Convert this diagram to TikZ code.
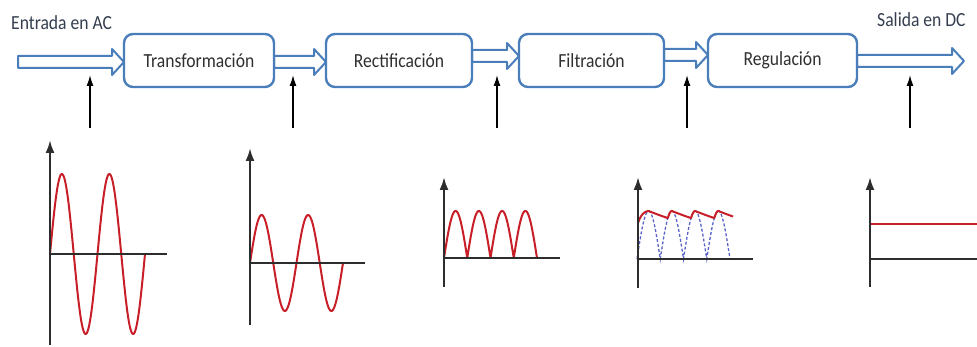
\documentclass[tikz,border=0pt]{standalone}
\usepackage{fontspec}
\usepackage{graphicx}
\setmainfont{Carlito}
\usetikzlibrary{arrows.meta,calc}
\definecolor{boxblue}{RGB}{74,126,187}
\definecolor{sigred}{RGB}{200,30,40}
\definecolor{axisgray}{RGB}{45,45,45}
\definecolor{txtgray}{RGB}{48,48,48}
\definecolor{captgray}{RGB}{52,62,78}
\definecolor{dashblue}{RGB}{90,100,200}
\newcommand\lbl[1]{\scalebox{0.88}[1]{#1}}
\newcommand\blockarr[3]{%
  \path[blockarrow] let \p1=(#1), \p2=(#2), \p3=(0,#3) in
    (\x1,\y3+6pt) -- (\x2-12pt,\y3+6pt) -- (\x2-12pt,\y3+13pt) -- (\x2,\y3)
    -- (\x2-12pt,\y3-13pt) -- (\x2-12pt,\y3-6pt) -- (\x1,\y3-6pt) -- cycle;}
\tikzset{
  stagebox/.style={draw=boxblue, line width=2.4pt, fill=white, rounded corners=9pt,
    minimum height=53pt, inner sep=0pt, text=txtgray,
    font=\fontsize{20}{24}\selectfont},
  blockarrow/.style={draw=boxblue, fill=white, line width=2pt, line join=round},
  uparrow/.style={draw=black, line width=1.4pt, -{Latex[length=11pt,width=7pt]}},
  axisline/.style={draw=axisgray, line width=2.2pt},
  axisarrow/.style={axisline, -{Latex[length=13pt,width=9pt]}},
  sig/.style={draw=sigred, line width=2pt, line join=round},
  dsig/.style={draw=dashblue, line width=1.3pt, dash pattern=on 3pt off 2pt},
  caption/.style={inner sep=0pt, anchor=base west, text=captgray, font=\fontsize{20}{24}\selectfont}
}
\begin{document}
\begin{tikzpicture}[x=1pt,y=-1pt]
\useasboundingbox (0,0) rectangle (977,347);

% captions
\node[caption] (inp) at (11,30) {\lbl{Entrada en AC}};
\node[caption] (outp) at (877,27) {\lbl{Salida en DC}};

% arrow ends
\coordinate (start) at (18,62);
\coordinate (finish) at (964,61);

% stage box anchors
\path (199,60.5) coordinate (tc) (399,60.5) coordinate (rc) (591.5,60.5) coordinate (fc) (782.5,60.5) coordinate (gc);
\path (tc) ++(-75,0) coordinate (tw) (tc) ++(75,0) coordinate (te);
\path (rc) ++(-73,0) coordinate (rw) (rc) ++(73,0) coordinate (re);
\path (fc) ++(-72.5,0) coordinate (fw) (fc) ++(72.5,0) coordinate (fe);
\path (gc) ++(-74.5,0) coordinate (gw) (gc) ++(74.5,0) coordinate (ge);

\blockarr{start}{tw}{62}
\blockarr{te}{rw}{62}
\blockarr{re}{fw}{56}
\blockarr{fe}{gw}{55}
\blockarr{ge}{finish}{61}

\node[stagebox, minimum width=150pt] (t) at (tc) {\lbl{Transformación}};
\node[stagebox, minimum width=146pt] (r) at (rc) {\lbl{Rectificación}};
\node[stagebox, minimum width=145pt] (f) at (fc) {\lbl{Filtración}};
\node[stagebox, minimum width=149pt] (g) at (gc) {\lbl{Regulación}};

% measurement arrows
\foreach \i/\xx in {1/90,2/293,3/497,4/687,5/910}{
  \coordinate (m\i b) at (\xx,128);
  \coordinate (m\i t) at (\xx,75);
  \draw[uparrow] (m\i b) -- (m\i t);
}

% graph 1: AC input
\draw[sig] plot[domain=0:720, samples=120, variable=\t] ({50+\t/720*95}, {254-80*sin(\t)});
\draw[axisarrow] (50,345) -- (50,140);
\draw[axisline] (50,254) -- (167,254);

% graph 2: transformed AC
\draw[sig] plot[domain=0:720, samples=120, variable=\t] ({250+\t/720*93}, {263-48*sin(\t)});
\draw[axisarrow] (250,325) -- (250,148);
\draw[axisline] (250,263) -- (365,263);

% graph 3: rectified
\draw[sig] plot[domain=0:720, samples=161, variable=\t] ({444+\t/720*93}, {258-47*abs(sin(\t))});
\draw[axisarrow] (444,287) -- (444,177);
\draw[axisline] (444,258) -- (560,258);

% graph 4: filtered
\draw[dsig] plot[domain=0:720, samples=161, variable=\t] ({637+\t/720*93}, {259-48*abs(sin(\t))});
\draw[sig] (638,223) .. controls (641,214) and (645,211) .. (648.6,211)
  -- plot[domain=11.6:96, samples=220, variable=\u]
  ({637+\u}, {259-max(48*abs(sin(\u/23.25*180)), 48*exp(-mod(\u-11.6,23.25)/120))});
\draw[axisarrow] (638,288) -- (638,177);
\draw[axisline] (638,259) -- (753,259);

% graph 5: DC output
\draw[sig] (870,224) -- (977,224);
\draw[axisarrow] (870,287) -- (870,177);
\draw[axisline] (870,259) -- (977,259);
\end{tikzpicture}
\end{document}
